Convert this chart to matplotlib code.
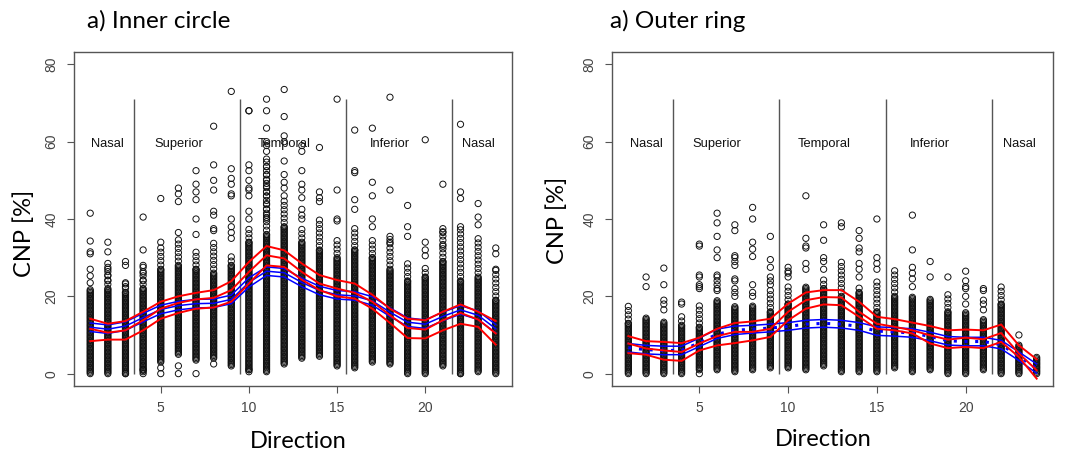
import numpy as np
import matplotlib.pyplot as plt

directions = list(range(1, 25))
regions = ["Nasal", "Superior", "Temporal", "Inferior", "Nasal"]
region_x = [2, 6, 12, 18, 23]
borders = [3.5, 9.5, 15.5, 21.5]

# ---- inner circle: point clouds (dense column lo..hi, looser column up to top, plus single points)
in_lo = [0, 0, 0, 0.5, 3, 5, 3.5, 4, 2, 1, 0.5, 2.5, 4, 4.5, 2, 1.5, 3, 2.5, 0, 0, 2, 0, 0.5, 0]
in_hi = [22, 22, 21, 22, 27, 28, 27, 26, 28, 34, 36, 38, 34, 32, 30, 32, 30, 27, 24, 25, 29, 24, 25, 19]
in_top = [22, 28, 24, 28, 33, 35, 32, 34, 31, 38, 55, 45, 38, 40, 35, 38, 35, 35, 29, 28, 37, 38, 35, 27]
in_extra = [
    [41.5, 34.3, 31.5, 31, 27, 25.3, 23.5],
    [34, 31.5, 28.5, 27, 25.5, 24],
    [29, 28, 23.5, 22.5, 0],
    [40.5, 32, 28, 26, 24, 0, 1],
    [45.3, 34, 1.5, 0],
    [48, 46.5, 44.5, 36.5, 2, 0],
    [52.5, 49, 47, 45, 40, 36, 0],
    [64, 54, 50, 47.5, 42, 41, 37.5, 37, 2.5],
    [73, 53, 50.5, 49, 46.5, 46, 40, 38, 36.5, 35],
    [68, 68, 54, 52.5, 50, 48, 47.5, 46, 42, 40, 0.5, 1],
    [71, 68, 63.5, 60, 59, 57.5, 55.5, 53.5, 51.5, 50, 48.5, 47, 46, 44, 42.5, 41, 40],
    [73.5, 66.5, 61.5, 60, 55, 51.5, 49.5, 48, 46],
    [59, 57.5, 52.5, 49, 47.5, 45.5, 42.5, 41, 40],
    [58.5, 47, 45.5, 44.5],
    [71, 47.5, 40, 39.5],
    [63, 52.5, 52, 45, 42.5],
    [63.5, 49.5, 46, 40, 38],
    [71.5, 47.5, 35.5, 34],
    [43.5, 38, 35.5],
    [60.5, 34, 32, 30.5],
    [49, 37.5, 36.5, 33],
    [64.5, 47, 45.3, 38, 0],
    [44, 40.5, 38.5],
    [32.5, 31, 27],
]
in_red_hi = [14.2, 12.9, 13.6, 16.0, 18.6, 20.0, 20.9, 21.6, 23.9, 28.9, 33.0, 31.9,
             28.5, 25.5, 24.2, 23.3, 20.4, 16.8, 14.2, 13.8, 16.0, 17.9, 16.0, 13.6]
in_red_med = [11.6, 10.6, 11.2, 13.8, 16.8, 18.3, 19.2, 19.6, 21.6, 26.3, 30.6, 29.8,
              26.3, 23.3, 22.0, 20.9, 18.6, 15.1, 11.8, 11.4, 13.8, 15.7, 14.0, 10.4]
in_red_lo = [8.4, 8.8, 8.8, 11.2, 14.2, 15.7, 16.8, 17.1, 18.6, 23.3, 28.0, 27.6,
             24.3, 21.6, 20.0, 19.4, 16.8, 13.1, 9.2, 9.1, 11.2, 12.9, 12.1, 7.5]
in_blue_hi = [13.1, 12.6, 13.4, 15.6, 17.7, 18.7, 19.2, 19.3, 20.3, 24.8, 27.6, 27.2,
              24.7, 22.6, 21.5, 21.2, 19.9, 17.0, 14.4, 13.9, 15.9, 17.6, 16.2, 12.7]
in_blue_mid = [12.0, 11.5, 12.3, 14.5, 16.6, 17.6, 18.1, 18.2, 19.2, 23.6, 26.5, 26.1,
               23.6, 21.5, 20.4, 20.1, 18.8, 15.9, 13.3, 12.8, 14.8, 16.5, 15.1, 11.6]
in_blue_lo = [10.9, 10.4, 11.2, 13.4, 15.5, 16.5, 17.0, 17.1, 18.1, 22.4, 25.4, 25.0,
              22.5, 20.4, 19.3, 19.0, 17.7, 14.8, 12.2, 11.7, 13.7, 15.4, 14.0, 10.5]

# ---- outer ring
out_lo = [0, 0, 0, 0, 1, 1, 0.5, 1, 1.5, 1.5, 1, 2, 0.5, 0.5, 0.5, 1.5, 0.5, 1, 0, 0, 1, 0, 0, 0]
out_hi = [13, 14.5, 13.5, 12.5, 12, 19, 17.5, 17.5, 16, 18, 22.5, 22, 20, 21, 16, 20, 20, 19.5, 16, 16, 14, 18, 7.5, 4.5]
out_top = [18, 14.5, 13.5, 15, 18, 19, 17.5, 17.5, 22, 23, 22.5, 25, 29, 23, 24, 27, 20, 19.5, 21.5, 16, 14, 23, 7.5, 4.5]
out_extra = [
    [],
    [25, 22.5],
    [27.3, 23, 19, 18, 16.5],
    [18.5, 18],
    [33.5, 33, 25.5, 25, 23, 22.5, 22, 0],
    [41.5, 39, 35.5, 32, 30, 25.5, 25, 24, 23, 22, 21.5],
    [38.5, 37, 30.5, 30, 29, 28, 24.5, 24, 22, 21, 20],
    [43, 40, 34, 32.2, 30.3, 23, 21, 20],
    [35.5, 29.5, 27.5, 25, 24, 23],
    [27.5, 26.5, 26, 25],
    [46, 35, 33, 32.5, 28.5, 27],
    [38.5, 34.5, 30, 29, 27],
    [39, 38],
    [37, 35, 32.5, 31.5, 28.5, 27, 25],
    [40, 30, 28.5, 27],
    [],
    [41, 32, 27.5, 26, 24.5, 22.5],
    [29, 25],
    [25],
    [26.5, 24, 22.5, 22, 20, 18],
    [22, 21.5, 19, 18, 16.5],
    [],
    [10],
    [],
]
out_red_hi = [9.7, 8.4, 8.2, 7.9, 9.3, 11.6, 13.1, 13.5, 14.2, 18.1, 21.0, 21.6,
              21.6, 18.6, 14.7, 14.1, 13.2, 12.3, 11.2, 11.4, 11.2, 12.7, 7.3, 3.7]
out_red_med = [7.8, 6.5, 6.0, 5.6, 7.8, 9.7, 10.8, 10.8, 11.6, 16.0, 19.0, 19.8,
               19.7, 16.0, 12.9, 12.1, 11.2, 9.9, 8.8, 9.3, 8.9, 10.5, 5.2, 0.9]
out_red_lo = [5.3, 4.9, 3.6, 3.3, 6.0, 7.3, 7.9, 8.6, 9.5, 13.8, 16.8, 17.9,
              17.7, 14.7, 11.6, 11.2, 10.4, 7.8, 6.6, 6.9, 6.6, 8.2, 4.3, -1.3]
out_blue_hi = [7.8, 7.3, 7.1, 7.1, 9.2, 11.5, 12.3, 12.5, 12.8, 13.2, 13.8, 14.0,
               13.8, 13.2, 12.1, 11.9, 11.6, 10.7, 9.6, 9.4, 9.4, 8.6, 5.6, 2.5]
out_blue_mid = [6.7, 6.2, 6.0, 6.0, 8.0, 10.2, 11.2, 11.5, 11.8, 12.2, 12.8, 13.0,
                12.8, 12.2, 11.0, 10.8, 10.5, 9.6, 8.5, 8.3, 8.3, 7.5, 4.5, 1.3]
out_blue_lo = [5.6, 5.1, 4.9, 4.9, 7.0, 9.1, 10.1, 10.5, 10.8, 11.2, 11.8, 12.0,
               11.8, 11.2, 9.9, 9.7, 9.4, 8.5, 7.4, 7.2, 7.2, 6.4, 3.4, 0.1]


def draw_panel(ax, lo, hi, top, extra, reds, blues, mid_dotted):
    xs, ys = [], []
    for d, a, b, t, e in zip(directions, lo, hi, top, extra):
        col = list(np.arange(a, b, 0.35)) + list(np.arange(b, t, 1.1)) + e
        xs += [d] * len(col)
        ys += col
    ax.scatter(xs, ys, s=20, facecolors='none', edgecolors='#111111', linewidths=0.7, zorder=2)

    ax.vlines(borders, 0, 71, color='#555555', lw=1, zorder=1)
    for lab, xx in zip(regions, region_x):
        ax.text(xx, 59.5, lab, ha='center', va='center', fontsize=9.3,
                family='Liberation Sans', color='#111111')

    for r in reds:
        ax.plot(directions, r, color='#ff0000', lw=1.4, zorder=4)
    ax.plot(directions, blues[0], color='#0000ff', lw=1.1, zorder=3)
    ax.plot(directions, blues[2], color='#0000ff', lw=1.1, zorder=3)
    if mid_dotted:
        ax.plot(directions, blues[1], color='#0000ff', lw=2.2, ls=(0, (1, 2.5)), zorder=3)
    else:
        ax.plot(directions, blues[1], color='#0000ff', lw=1.1, zorder=3)

    ax.set_xlim(0.08, 24.92)
    ax.set_ylim(-3.2, 83.2)
    ax.set_xticks([5, 10, 15, 20])
    ax.set_yticks([0, 20, 40, 60, 80])
    ax.tick_params(direction='out', length=5, width=0.8, color='#555555',
                   labelsize=10, labelcolor='#444444', pad=6)
    for lab in ax.get_yticklabels():
        lab.set_rotation(90)
        lab.set_va('center')
    for lab in ax.get_xticklabels() + ax.get_yticklabels():
        lab.set_family('Liberation Sans')
    for sp in ax.spines.values():
        sp.set_color('#555555')
        sp.set_linewidth(1.0)


fig = plt.figure(figsize=(10.72, 4.54), dpi=100)
ax1 = fig.add_axes([74 / 1072, 1 - 386 / 454, 438 / 1072, 334 / 454])
ax2 = fig.add_axes([612 / 1072, 1 - 386 / 454, 441 / 1072, 334 / 454])

draw_panel(ax1, in_lo, in_hi, in_top, in_extra,
           [in_red_hi, in_red_med, in_red_lo], [in_blue_hi, in_blue_mid, in_blue_lo], False)
draw_panel(ax2, out_lo, out_hi, out_top, out_extra,
           [out_red_hi, out_red_med, out_red_lo], [out_blue_hi, out_blue_mid, out_blue_lo], True)

big = 'Lato'
fig.text(87 / 1072, 1 - 21 / 454, 'a) Inner circle', fontsize=17.5, family=big, va='center', ha='left')
fig.text(610 / 1072, 1 - 21 / 454, 'a) Outer ring', fontsize=17.5, family=big, va='center', ha='left')
fig.text(24 / 1072, 1 - 233 / 454, 'CNP [%]', fontsize=17, family=big, rotation=90, va='center', ha='center')
fig.text(557 / 1072, 1 - 220 / 454, 'CNP [%]', fontsize=17, family=big, rotation=90, va='center', ha='center')
fig.text(298 / 1072, 1 - 441 / 454, 'Direction', fontsize=17, family=big, va='center', ha='center')
fig.text(823 / 1072, 1 - 439 / 454, 'Direction', fontsize=17, family=big, va='center', ha='center')

fig.savefig('out.png', dpi=100)
